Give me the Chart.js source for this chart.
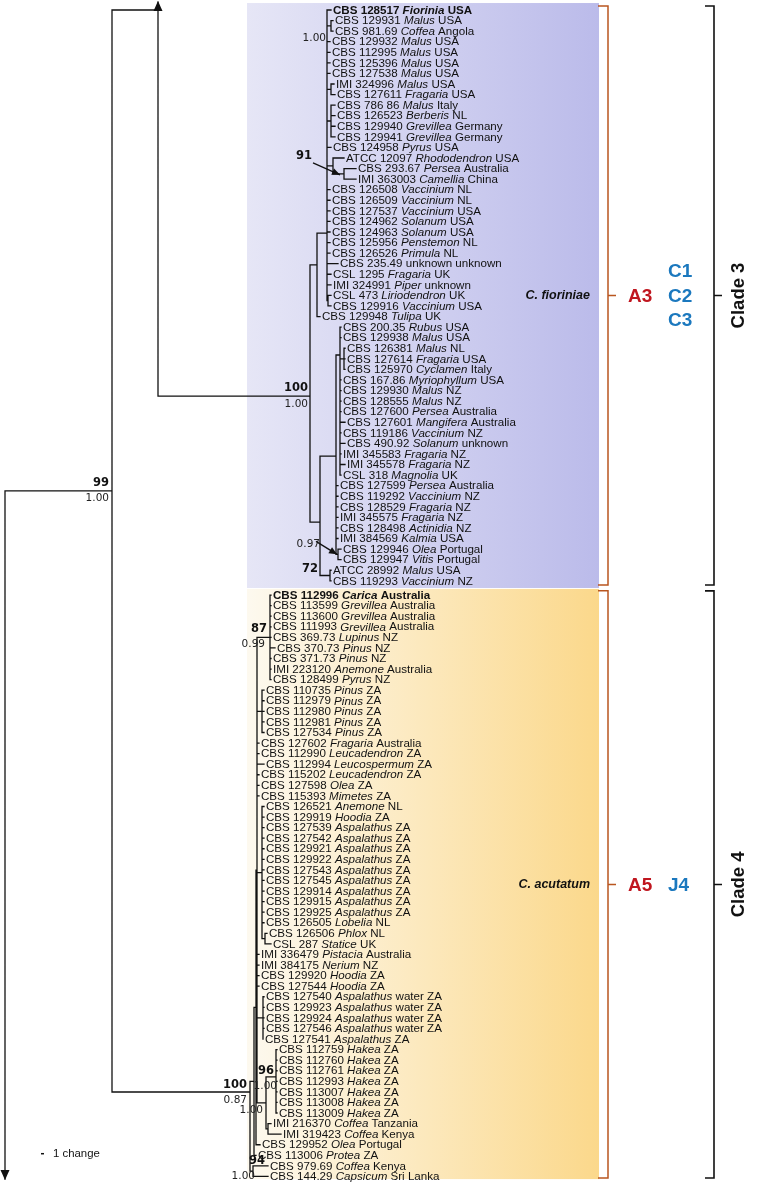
<!DOCTYPE html>
<html><head><meta charset="utf-8">
<script src="https://cdn.jsdelivr.net/npm/chart.js@4.4.0/dist/chart.umd.min.js"></script>
<style>html,body{margin:0;padding:0;background:#fff;}#wrap{width:757px;height:1185px;}</style>
</head><body><div id="wrap"><canvas id="c" width="757" height="1185"></canvas></div>
<script>
// ---------------- DATA ----------------
const clade3Count = 55;
const leafIds = ['CBS 128517','CBS 129931','CBS 981.69','CBS 129932','CBS 112995','CBS 125396','CBS 127538','IMI 324996','CBS 127611','CBS 786 86','CBS 126523','CBS 129940','CBS 129941','CBS 124958','ATCC 12097','CBS 293.67','IMI 363003','CBS 126508','CBS 126509','CBS 127537','CBS 124962','CBS 124963','CBS 125956','CBS 126526','CBS 235.49','CSL 1295','IMI 324991','CSL 473','CBS 129916','CBS 129948','CBS 200.35','CBS 129938','CBS 126381','CBS 127614','CBS 125970','CBS 167.86','CBS 129930','CBS 128555','CBS 127600','CBS 127601','CBS 119186','CBS 490.92','IMI 345583','IMI 345578','CSL 318','CBS 127599','CBS 119292','CBS 128529','IMI 345575','CBS 128498','IMI 384569','CBS 129946','CBS 129947','ATCC 28992','CBS 119293',
'CBS 112996','CBS 113599','CBS 113600','CBS 111993','CBS 369.73','CBS 370.73','CBS 371.73','IMI 223120','CBS 128499','CBS 110735','CBS 112979','CBS 112980','CBS 112981','CBS 127534','CBS 127602','CBS 112990','CBS 112994','CBS 115202','CBS 127598','CBS 115393','CBS 126521','CBS 129919','CBS 127539','CBS 127542','CBS 129921','CBS 129922','CBS 127543','CBS 127545','CBS 129914','CBS 129915','CBS 129925','CBS 126505','CBS 126506','CSL 287','IMI 336479','IMI 384175','CBS 129920','CBS 127544','CBS 127540','CBS 129923','CBS 129924','CBS 127546','CBS 127541','CBS 112759','CBS 112760','CBS 112761','CBS 112993','CBS 113007','CBS 113008','CBS 113009','IMI 216370','IMI 319423','CBS 129952','CBS 113006','CBS 979.69','CBS 144.29'];
const leafGenus = ['Fiorinia','Malus','Coffea','Malus','Malus','Malus','Malus','Malus','Fragaria','Malus','Berberis','Grevillea','Grevillea','Pyrus','Rhododendron','Persea','Camellia','Vaccinium','Vaccinium','Vaccinium','Solanum','Solanum','Penstemon','Primula','','Fragaria','Piper','Liriodendron','Vaccinium','Tulipa','Rubus','Malus','Malus','Fragaria','Cyclamen','Myriophyllum','Malus','Malus','Persea','Mangifera','Vaccinium','Solanum','Fragaria','Fragaria','Magnolia','Persea','Vaccinium','Fragaria','Fragaria','Actinidia','Kalmia','Olea','Vitis','Malus','Vaccinium',
'Carica','Grevillea','Grevillea','Grevillea','Lupinus','Pinus','Pinus','Anemone','Pyrus','Pinus','Pinus','Pinus','Pinus','Pinus','Fragaria','Leucadendron','Leucospermum','Leucadendron','Olea','Mimetes','Anemone','Hoodia','Aspalathus','Aspalathus','Aspalathus','Aspalathus','Aspalathus','Aspalathus','Aspalathus','Aspalathus','Aspalathus','Lobelia','Phlox','Statice','Pistacia','Nerium','Hoodia','Hoodia','Aspalathus','Aspalathus','Aspalathus','Aspalathus','Aspalathus','Hakea','Hakea','Hakea','Hakea','Hakea','Hakea','Hakea','Coffea','Coffea','Olea','Protea','Coffea','Capsicum'];
const leafPlace = ['USA','USA','Angola','USA','USA','USA','USA','USA','USA','Italy','NL','Germany','Germany','USA','USA','Australia','China','NL','NL','USA','USA','USA','NL','NL','unknown unknown','UK','unknown','UK','USA','UK','USA','USA','NL','USA','Italy','USA','NZ','NZ','Australia','Australia','NZ','unknown','NZ','NZ','UK','Australia','NZ','NZ','NZ','NZ','USA','Portugal','Portugal','USA','NZ',
'Australia','Australia','Australia','Australia','NZ','NZ','NZ','Australia','NZ','ZA','ZA','ZA','ZA','ZA','Australia','ZA','ZA','ZA','ZA','ZA','NL','ZA','ZA','ZA','ZA','ZA','ZA','ZA','ZA','ZA','ZA','NL','NL','UK','Australia','NZ','ZA','ZA','water ZA','water ZA','water ZA','water ZA','ZA','ZA','ZA','ZA','ZA','ZA','ZA','ZA','Tanzania','Kenya','Portugal','ZA','Kenya','Sri Lanka'];
// depth (tree units) at which each leaf branch ends
const leafTip = [331,333,333,330,330,330,330,334,335,335,335,335,335,331,344,356,356,330,330,330,330,330,330,330,338,331,331,331,331,320,341,341,345,345,345,341,341,341,341,345,341,345,341,345,341,338,338,338,338,338,338,341,341,331,331,
271,271,271,271,271,275,271,271,271,264,264,264,264,264,259,259,264,259,259,259,264,264,264,264,264,264,264,264,264,264,264,264,267,271,259,259,259,259,264,264,264,264,263,277,277,277,277,277,277,277,271,281,260,256,268,268];
const boldLeaves = [0, 55];

// internal nodes
const nodeNames = ['R','N99','T','C3','A','A1','n12','n78','n912','n91','n1516','n2728','B','B1','X','n3234','n097','n72','C4','n94','P1','P2','P3','n87','nPinZA','nAsp','nPS','nWater','H','n96','nCof'];
const nodeDepth = [5,112,158,310,317,327,331,331,331,333,344,328,320,336,340,344,338,330,250,253,254,256,257,270,262,262,265,263,266,276,268];
const nodeRow = [45.5,45.5,0,36.52,24.12,21.1,null,null,null,null,null,null,48.44,42.2,32.64,null,null,null,102.36,null,null,null,null,null,null,null,null,null,null,100.94,null];
const nodeKids = [
 ['N99'], ['T','C4'], ['C3'], ['A','B'], ['A1',29],
 [0,'n12',3,4,5,6,'n78','n912',13,'n91',17,18,19,20,21,22,23,24,25,26,'n2728'],
 [1,2], [7,8], [9,10,11,12], [14,'n1516'], [15,16], [27,28],
 ['B1','n72'], ['X',45,46,47,48,49,50,'n097'],
 [30,31,'n3234',35,36,37,38,39,40,41,42,43,44], [32,33,34], [51,52], [53,54],
 ['P1','n94'], [109,110], ['P2',108], ['P3',107],
 ['n87','nPinZA',69,70,71,72,73,74,'nAsp',89,90,91,92,'nWater','H'],
 [55,56,57,58,59,60,61,62,63], [64,65,66,67,68],
 [75,76,77,78,79,80,81,82,83,84,85,86,'nPS'], [87,88], [93,94,95,96,97],
 ['n96','nCof'], [98,99,100,101,102,103,104], [105,106]
];
// truncated (long) branches drawn as arrows
const truncNodes = ['R','T'];
const truncEndRow = [110.6, -0.75];

// support values
const supportNodes = ['N99','C3','n12','n1516','n097','n72','n87','n96','H','C4','n94'];
const bootstrapVals = ['99','100','','91','','72','87','96','','100','94'];
const posteriorVals = ['1.00','1.00','1.00','','0.97','','0.99','1.00','1.00','0.87','1.00'];

// clade annotations
const cladeNames = ['C. fioriniae','C. acutatum'];
const cladeA = ['A3','A5'];
const cladeSub = [['C1','C2','C3'],['J4']];
const cladeTitles = ['Clade 3','Clade 4'];
const scaleBarChanges = 1;

// ---------------- LAYOUT / STYLE ----------------
const rowGap = 0.35;
function leafRow(i){ return i + (i >= clade3Count ? rowGap : 0); }
const nodeIndex = {}; nodeNames.forEach((n,i)=>nodeIndex[n]=i);
const rowCache = {};
function rowOf(c){
  if (typeof c === 'number') return leafRow(c);
  if (rowCache[c] !== undefined) return rowCache[c];
  const k = nodeIndex[c];
  let r;
  if (nodeRow[k] !== null) r = nodeRow[k];
  else { const rs = nodeKids[k].map(rowOf); r = (Math.min(...rs)+Math.max(...rs))/2; }
  rowCache[c] = r; return r;
}
function depthOf(c){ return typeof c === 'number' ? leafTip[c] : nodeDepth[nodeIndex[c]]; }

const branchPts = [];
function seg(x1,y1,x2,y2){ branchPts.push({x:x1,y:y1},{x:x2,y:y2},{x:x2,y:null}); }
nodeNames.forEach((n,k)=>{
  const d = nodeDepth[k], r = rowOf(n);
  const rs = nodeKids[k].map(rowOf).concat([r]);
  const ti = truncNodes.indexOf(n);
  if (ti >= 0) rs.push(truncEndRow[ti]);
  const lo = Math.min(...rs), hi = Math.max(...rs);
  if (hi > lo) seg(d, lo, d, hi);
  nodeKids[k].forEach(c=>{ const cd = depthOf(c); if (cd > d) seg(d, rowOf(c), cd, rowOf(c)); });
});

const supportPlace = {
 N99:{b:[-3,-8],p:[-3,7]}, C3:{b:[-2,-8],p:[-2,8]}, n12:{p:[-5,12]},
 n1516:{b:[-32,-18],from:[-31,-11],to:[-4,1]}, n097:{p:[-18,-10],from:[-22,-13],to:[-1,0]},
 n72:{b:[-12,-6]}, n87:{b:[-3,-8],p:[-5,7]}, n96:{b:[-2,-6],p:[1,9]}, H:{p:[-3,7]},
 C4:{b:[-3,-7],p:[-3,8]}, n94:{b:[12,-10],p:[2,5]}
};
const LEAF_FONT = '11.6px "Liberation Sans", Arial, sans-serif';

function arrowHead(ctx, x1,y1,x2,y2, len, wid){
  const a = Math.atan2(y2-y1, x2-x1);
  ctx.beginPath();
  ctx.moveTo(x2,y2);
  ctx.lineTo(x2 - len*Math.cos(a) + wid*Math.sin(a), y2 - len*Math.sin(a) - wid*Math.cos(a));
  ctx.lineTo(x2 - len*Math.cos(a) - wid*Math.sin(a), y2 - len*Math.sin(a) + wid*Math.cos(a));
  ctx.closePath(); ctx.fill();
}

const treePlugin = {
  id:'tree',
  beforeDatasetsDraw(chart){
    const {ctx, scales:{x, y}} = chart;
    const boxes = [
      [leafRow(0)-0.66, leafRow(clade3Count-1)+0.68, '#e6e6f6', '#bbbbea'],
      [leafRow(clade3Count)-0.58, leafRow(leafIds.length-1)+0.25, '#fdf9ef', '#fbd88b']
    ];
    const x0 = x.getPixelForValue(247), x1 = x.getPixelForValue(599);
    boxes.forEach(b=>{
      const g = ctx.createLinearGradient(x0,0,x1,0);
      g.addColorStop(0,b[2]); g.addColorStop(1,b[3]);
      ctx.fillStyle = g;
      const t = y.getPixelForValue(b[0]), bt = y.getPixelForValue(b[1]);
      ctx.fillRect(x0, t, x1-x0, bt-t);
    });
  },
  afterDatasetsDraw(chart){
    const {ctx, scales:{x, y}} = chart;
    ctx.save();
    ctx.fillStyle = '#111';
    // arrowheads of truncated branches
    truncNodes.forEach((n,i)=>{
      const px = x.getPixelForValue(nodeDepth[nodeIndex[n]]);
      const py0 = y.getPixelForValue(rowOf(n)), py1 = y.getPixelForValue(truncEndRow[i]);
      const dir = py1 > py0 ? 1 : -1;
      arrowHead(ctx, px, py1 - dir*20, px, py1 + dir*1, 10, 4.5);
    });
    // leaf labels
    ctx.textBaseline = 'middle'; ctx.textAlign = 'left';
    leafIds.forEach((id,i)=>{
      let px = x.getPixelForValue(leafTip[i]) + 2;
      const py = y.getPixelForValue(leafRow(i)) + 0.5;
      const w = boldLeaves.includes(i) ? 'bold ' : '';
      const segs = [[id+' ', w], [leafGenus[i], 'italic '+w], [(leafGenus[i]?' ':'')+leafPlace[i], w]];
      segs.forEach(s=>{
        if (!s[0]) return;
        ctx.font = s[1] + LEAF_FONT;
        ctx.fillText(s[0], px, py);
        px += ctx.measureText(s[0]).width;
      });
    });
    // support values
    ctx.textAlign = 'right';
    supportNodes.forEach((n,i)=>{
      const pl = supportPlace[n];
      const d = nodeDepth[nodeIndex[n]];
      const nx = x.getPixelForValue(d), ny = y.getPixelForValue(rowOf(n));
      if (bootstrapVals[i] && pl.b){
        ctx.font = 'bold 11.5px "DejaVu Sans", sans-serif'; ctx.fillStyle = '#111';
        ctx.fillText(bootstrapVals[i], nx+pl.b[0], ny+pl.b[1]);
      }
      if (posteriorVals[i] && pl.p){
        ctx.font = '10.5px "DejaVu Sans", sans-serif'; ctx.fillStyle = '#222';
        ctx.fillText(posteriorVals[i], nx+pl.p[0], ny+pl.p[1]);
      }
      if (pl.from){
        ctx.strokeStyle = '#111'; ctx.lineWidth = 1.3; ctx.fillStyle = '#111';
        const ax = nx+pl.from[0], ay = ny+pl.from[1], bx = nx+pl.to[0], by = ny+pl.to[1];
        ctx.beginPath(); ctx.moveTo(ax,ay); ctx.lineTo(bx,by); ctx.stroke();
        arrowHead(ctx, ax,ay,bx,by, 8, 3.5);
      }
    });
    // brackets & clade labels
    const spans = [[-0.38, 54.4],[54.95, 110.5]];
    spans.forEach((sp,i)=>{
      const t = y.getPixelForValue(sp[0]), b = y.getPixelForValue(sp[1]), m = (t+b)/2;
      ctx.strokeStyle = '#b9561f'; ctx.lineWidth = 1.5;
      const ox = x.getPixelForValue(608);
      ctx.beginPath();
      ctx.moveTo(ox-10,t); ctx.lineTo(ox,t); ctx.lineTo(ox,b); ctx.lineTo(ox-10,b);
      ctx.moveTo(ox,m); ctx.lineTo(ox+8,m); ctx.stroke();
      ctx.strokeStyle = '#111'; ctx.lineWidth = 1.6;
      const bx = x.getPixelForValue(714);
      ctx.beginPath();
      ctx.moveTo(bx-9,t); ctx.lineTo(bx,t); ctx.lineTo(bx,b); ctx.lineTo(bx-9,b);
      ctx.moveTo(bx,m); ctx.lineTo(bx+8,m); ctx.stroke();
      ctx.fillStyle = '#111'; ctx.textAlign = 'right'; ctx.textBaseline = 'middle';
      ctx.font = 'italic bold 12.5px "Liberation Sans", Arial, sans-serif';
      ctx.fillText(cladeNames[i], x.getPixelForValue(590), m);
      ctx.textAlign = 'left';
      ctx.font = 'bold 19px "Liberation Sans", Arial, sans-serif';
      ctx.fillStyle = '#c0161f';
      ctx.fillText(cladeA[i], x.getPixelForValue(628), m+1);
      ctx.fillStyle = '#1b78be';
      const subs = cladeSub[i];
      subs.forEach((s,j)=>{ ctx.fillText(s, x.getPixelForValue(668), m+1 + (j-(subs.length-1)/2)*24.5); });
      ctx.save();
      ctx.translate(x.getPixelForValue(738), m);
      ctx.rotate(-Math.PI/2);
      ctx.textAlign = 'center'; ctx.fillStyle = '#111';
      ctx.font = 'bold 18.5px "Liberation Sans", Arial, sans-serif';
      ctx.fillText(cladeTitles[i], 0, 1);
      ctx.restore();
    });
    // scale bar
    const sy = y.getPixelForValue(108.2);
    const sx0 = x.getPixelForValue(41);
    ctx.strokeStyle = '#111'; ctx.lineWidth = 1.5;
    ctx.beginPath(); ctx.moveTo(sx0, sy); ctx.lineTo(x.getPixelForValue(41 + 3*scaleBarChanges), sy); ctx.stroke();
    ctx.fillStyle = '#111'; ctx.textAlign = 'left'; ctx.textBaseline = 'middle';
    ctx.font = '11.4px "Liberation Sans", Arial, sans-serif';
    ctx.fillText(scaleBarChanges + ' change', x.getPixelForValue(53), sy);
    ctx.restore();
  }
};

new Chart(document.getElementById('c'), {
  type: 'scatter',
  data: { datasets: [{ data: branchPts, showLine: true, borderColor: '#111', borderWidth: 1.3,
    borderCapStyle: 'square', pointRadius: 0, pointHoverRadius: 0, tension: 0, spanGaps: false }] },
  options: {
    responsive: false, animation: false, devicePixelRatio: 1, events: [],
    layout: { padding: 0 },
    plugins: { legend: { display: false }, tooltip: { enabled: false } },
    scales: {
      x: { type: 'linear', min: 0, max: 757, display: false },
      y: { type: 'linear', min: -0.946, max: 111.16, reverse: true, display: false }
    }
  },
  plugins: [treePlugin]
});
</script>
</body></html>
